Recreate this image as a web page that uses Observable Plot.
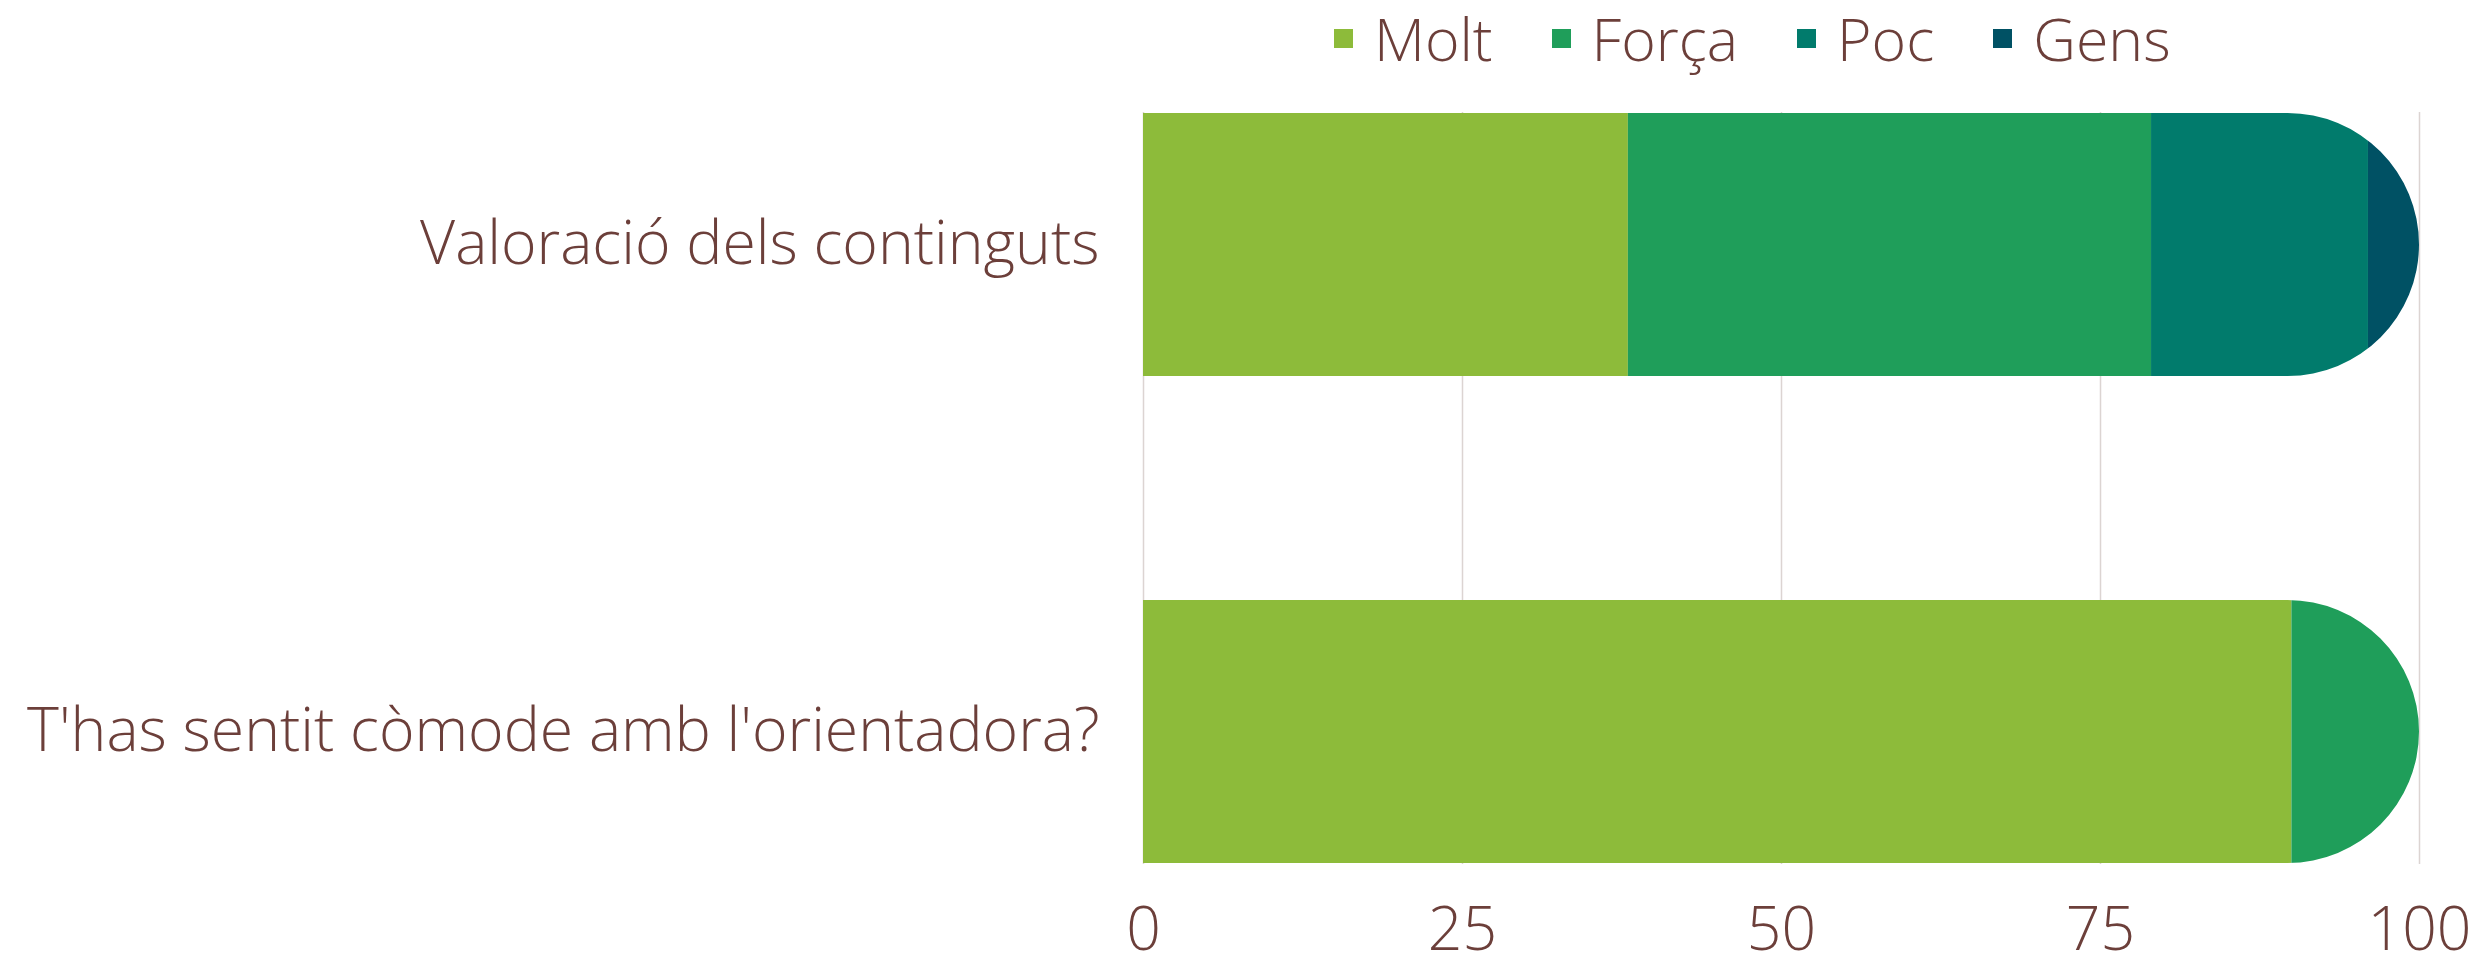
<!DOCTYPE html>
<html>
<head>
<meta charset="utf-8">
<script src="https://cdn.jsdelivr.net/npm/d3@7"></script>
<script src="https://cdn.jsdelivr.net/npm/@observablehq/plot@0.6"></script>
<style>
  html, body { margin: 0; padding: 0; background: #ffffff; overflow: hidden; }
  #legend { height: 76px; display: flex; align-items: center; padding-left: 1334px; box-sizing: border-box; }
  #legend > div { line-height: 1; margin: 0 !important; min-height: 0 !important; }
  .lg-swatch { margin-right: 59px !important; }
  .lg-swatch > svg, .lg-swatch svg { margin-right: 21px !important; }
</style>
</head>
<body>
<div id="legend"></div>
<div id="chart"></div>
<script>
const categories = ["Valoració dels continguts", "T'has sentit còmode amb l'orientadora?"];
const levels = ["Molt", "Força", "Poc", "Gens"];
const valoracio = [38, 41, 17, 4];
const comode = [90, 10, 0, 0];
const xTicks = [0, 25, 50, 75, 100];
const colors = ["#8dbb3a", "#1f9e5a", "#017b6c", "#005164"];
const textColor = "#6c3f3a";
const gridColor = "#dcd4d2";

const seriesByCategory = [valoracio, comode];
const table = [];
categories.forEach((c, i) => {
  levels.forEach((l, j) => table.push({category: c, level: l, value: seriesByCategory[i][j]}));
});

const fontStyle = {fontFamily: "'Open Sans', sans-serif", fontWeight: 300, color: textColor, background: "transparent"};

const legend = Plot.legend({
  color: {domain: levels, range: colors},
  swatchSize: 19,
  className: "lg",
  style: {...fontStyle, fontSize: "59px"}
});
document.getElementById("legend").appendChild(legend);

const plot = Plot.plot({
  width: 2481,
  height: 881,
  marginLeft: 1143,
  marginRight: 62,
  marginTop: 36,
  marginBottom: 93,
  style: {...fontStyle, fontSize: "60.7px"},
  x: {domain: [0, 100]},
  y: {domain: categories, paddingInner: 0.459, paddingOuter: 0},
  color: {domain: levels, range: colors},
  marks: [
    Plot.gridX(xTicks, {stroke: gridColor, strokeOpacity: 1, strokeWidth: 1.5}),
    Plot.barX(table, {x: "value", y: "category", fill: "level"}),
    Plot.axisX({ticks: xTicks, tickSize: 0, tickPadding: 42, label: null}),
    Plot.axisY({tickSize: 0, tickPadding: 44, label: null})
  ]
});

// Round the right end of each stacked row with a clip path derived from the scales
const xs = plot.scale("x"), ys = plot.scale("y");
const svg = d3.select(plot);
const clip = svg.append("defs").append("clipPath").attr("id", "rowclip");
categories.forEach((c, i) => {
  const total = d3.sum(seriesByCategory[i]);
  const x0 = xs.apply(0), x1 = xs.apply(total);
  const y0 = ys.apply(c), h = ys.bandwidth, y1 = y0 + h;
  const r = h / 2;
  clip.append("path").attr("d",
    `M${x0},${y0}H${x1 - r}A${r},${r} 0 0 1 ${x1},${y0 + r}V${y1 - r}A${r},${r} 0 0 1 ${x1 - r},${y1}H${x0}Z`);
});
svg.selectAll("g[aria-label='bar']").attr("clip-path", "url(#rowclip)");

document.getElementById("chart").appendChild(plot);
</script>
</body>
</html>
